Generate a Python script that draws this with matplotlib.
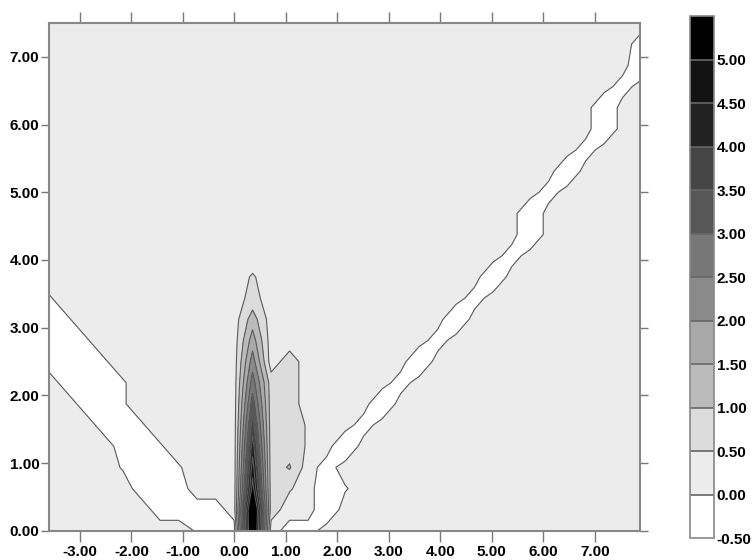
import numpy as np
import matplotlib
matplotlib.use('Agg')
import matplotlib.pyplot as plt

# grid node coordinates (33 x 25 nodes)
x_nodes = np.linspace(-3.6, 7.9, 33)
y_nodes = np.linspace(0.0, 7.5, 25)

# value read at each node, coded (one char per node, '|' every 10 nodes)
code_values = {'C': -0.6, 'o': -0.5, 'c': -0.27, '-': -0.25, 'w': -0.05, '.': 0.25,
               'z': 0.45, 'a': 0.55, 'b': 0.68, '1': 0.75, 'q': 1.05, '2': 1.25,
               '3': 1.75, '4': 2.25, '5': 2.75, '6': 3.25, '7': 3.75, '8': 4.25,
               '9': 4.75, 'A': 5.25, 'B': 6.5}

# rows from top (y=7.5) to bottom (y=0.0)
grid_rows = [
    "..........|..........|..........|...",  # 7.5000
    "..........|..........|..........|..c",  # 7.1875
    "..........|..........|..........|..C",  # 6.8750
    "..........|..........|..........|.c.",  # 6.5625
    "..........|..........|..........|C..",  # 6.2500
    "..........|..........|..........|C..",  # 5.9375
    "..........|..........|.........c|...",  # 5.6250
    "..........|..........|........C.|...",  # 5.3125
    "..........|..........|.......c..|...",  # 5.0000
    "..........|..........|......C...|...",  # 4.6875
    "..........|..........|......C...|...",  # 4.3750
    "..........|..........|.....c....|...",  # 4.0625
    "..........|.a........|....C.....|...",  # 3.7500
    "w.........|.b........|...c......|...",  # 3.4375
    "-w........|.2........|..C.......|...",  # 3.1250
    "--w.......|.3........|.c........|...",  # 2.8125
    "---w......|.4.1......|C.........|...",  # 2.5000
    ".---w.....|.511.....c|..........|...",  # 2.1875
    "..--w.....|.611....C.|..........|...",  # 1.8750
    "...--w....|.711z..c..|..........|...",  # 1.5625
    "....--w...|.811z.C...|..........|...",  # 1.2500
    "....w--w..|.91q.-....|..........|...",  # 0.9375
    ".....---..|.A1a.ow...|..........|...",  # 0.6250
    "......----|.B1..o....|..........|...",  # 0.3125
    "........w-|-B.--.....|..........|...",  # 0.0000
]

levels = [-0.5, 0.0, 0.5, 1.0, 1.5, 2.0, 2.5, 3.0, 3.5, 4.0, 4.5, 5.0, 5.5]
band_colors = ['#ffffff', '#ececec', '#dcdcdc', '#bbbbbb', '#a9a9a9', '#8a8a8a',
               '#777777', '#575757', '#454545', '#222222', '#131313', '#000000']
x_ticks = [-3, -2, -1, 0, 1, 2, 3, 4, 5, 6, 7]
y_ticks = [0, 1, 2, 3, 4, 5, 6, 7]

Z = np.array([[code_values[c] for c in row.replace('|', '')] for row in grid_rows[::-1]])
X, Y = np.meshgrid(x_nodes, y_nodes)

plt.rcParams['font.family'] = ['Liberation Sans', 'DejaVu Sans']
plt.rcParams['font.size'] = 11
plt.rcParams['font.weight'] = 'bold'

fig = plt.figure(figsize=(7.54, 5.6), dpi=100)
ax = fig.add_axes([0.065, 0.052, 0.784, 0.907])
ax.set_facecolor('white')
cf = ax.contourf(X, Y, Z, levels=levels, colors=band_colors)
# values above the top level stay black
ax.contourf(X, Y, Z, levels=[levels[-1], 20.0], colors=['#000000'])
ax.contour(X, Y, Z, levels=levels[1:-1], colors='#5a5a5a', linewidths=0.8)

ax.set_xlim(-3.6, 7.88)
ax.set_ylim(0, 7.5)
ax.set_xticks(x_ticks)
ax.set_xticklabels(['%.2f' % v for v in x_ticks])
ax.set_yticks(y_ticks)
ax.set_yticklabels(['%.2f' % v for v in y_ticks])
ax.tick_params(axis='x', top=True, bottom=True, direction='out', length=8,
               width=1, color='#777777', pad=2)
ax.tick_params(axis='y', left=True, right=True, direction='out', length=6,
               width=1, color='#777777', pad=1)
for s in ax.spines.values():
    s.set_color('#888888')
    s.set_linewidth(1.5)

cax = fig.add_axes([0.915, 0.039, 0.032, 0.932])
cbar = fig.colorbar(cf, cax=cax, drawedges=True)
cbar.set_ticks(levels[:-1])
cbar.set_ticklabels(['%.2f' % v for v in levels[:-1]])
cbar.ax.tick_params(length=0, pad=2)
cbar.outline.set_edgecolor('#888888')
cbar.outline.set_linewidth(1.2)
cbar.dividers.set_color('#666666')
cbar.dividers.set_linewidth(1.2)

fig.savefig('out.png', dpi=100)
